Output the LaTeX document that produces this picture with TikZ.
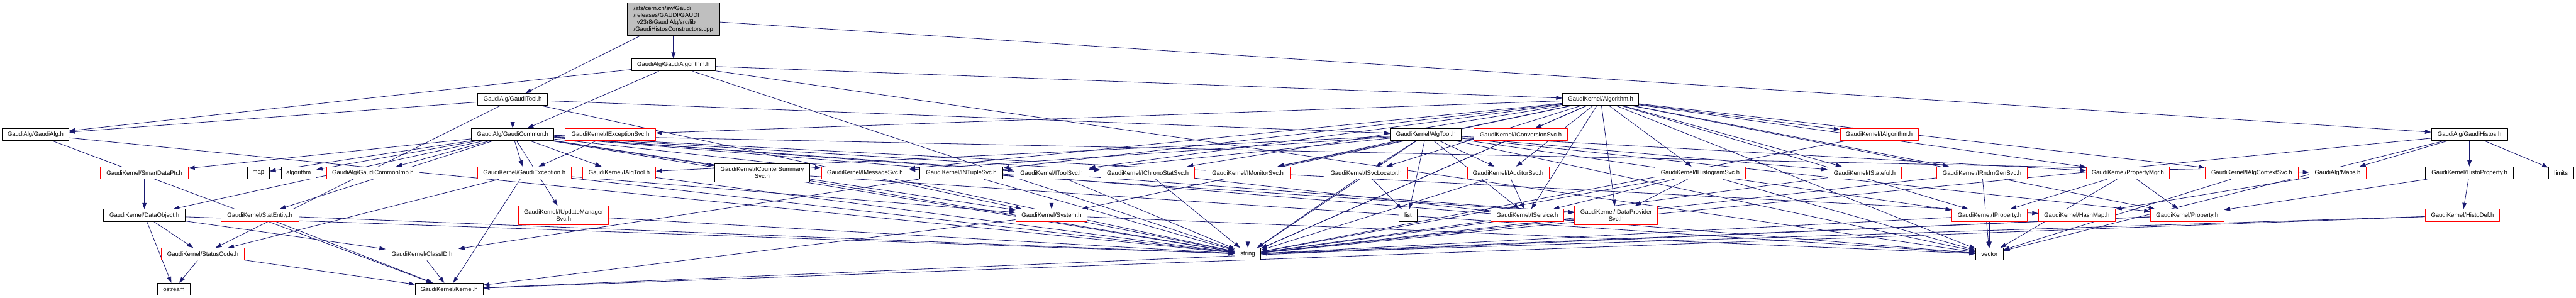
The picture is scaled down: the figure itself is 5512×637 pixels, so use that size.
\documentclass[tikz,border=0pt]{standalone}
\usepackage{fontspec}
\setmainfont{Liberation Sans}
\usetikzlibrary{arrows.meta,backgrounds}
\definecolor{DXedge}{HTML}{191970}
\definecolor{DXtrunc}{HTML}{FF0000}
\definecolor{DXroot}{HTML}{BFBFBF}

\begin{document}
\begin{tikzpicture}[
  x=1pt,y=-1pt,
  font=\fontsize{12.8}{14.7}\selectfont,
  line join=round,
  hdr/.style={draw=black,line width=1.3pt,fill=white,inner sep=0pt,
    minimum height=26pt,align=center},
  trunc/.style={hdr,draw=DXtrunc},
  twoline/.style={minimum height=40pt},
  rootbox/.style={hdr,fill=DXroot,align=left,minimum height=70pt},
  dep/.style={draw=DXedge,line width=1.1pt,-{Triangle[length=13pt,width=9pt]}}
]

% pixel grid of the reference, y grows downwards
\useasboundingbox (0,0) rectangle (5512,637);

% rows A-D
\node[rootbox,minimum width=198pt] (root) at (1441,41)
  {/afs/cern.ch/sw/Gaudi\\/releases/GAUDI/GAUDI\\\_v23r8/GaudiAlg/src/lib\\/GaudiHistosConstructors.cpp};
\node[hdr,minimum width=179pt] (galgorithm) at (1441,139) {GaudiAlg/GaudiAlgorithm.h};
\node[hdr,minimum width=150pt] (gtool) at (1097,213) {GaudiAlg/GaudiTool.h};
\node[hdr,minimum width=163pt] (algorithmh) at (3425,213) {GaudiKernel/Algorithm.h};
\node[hdr,minimum width=142pt] (galg) at (76,288) {GaudiAlg/GaudiAlg.h};
\node[hdr,minimum width=177pt] (gcommon) at (1097,288) {GaudiAlg/GaudiCommon.h};
\node[trunc,minimum width=194pt] (iexceptionsvc) at (1306,288) {GaudiKernel/IExceptionSvc.h};
\node[hdr,minimum width=152pt] (algtool) at (3051,288) {GaudiKernel/AlgTool.h};
\node[trunc,minimum width=201pt] (iconversionsvc) at (3254,288) {GaudiKernel/IConversionSvc.h};
\node[trunc,minimum width=167pt] (ialgorithm) at (4021,288) {GaudiKernel/IAlgorithm.h};
\node[hdr,minimum width=163pt] (ghistos) at (5284,288) {GaudiAlg/GaudiHistos.h};

% row E
\node[trunc,minimum width=188pt] (smartdataptr) at (309,370) {GaudiKernel/SmartDataPtr.h};
\node[hdr,minimum width=47pt] (map) at (553,370) {map};
\node[hdr,minimum width=75pt] (stdalgo) at (639,370) {algorithm};
\node[trunc,minimum width=199pt] (gcommonimp) at (798,370) {GaudiAlg/GaudiCommonImp.h};
\node[trunc,minimum width=201pt] (gaudiexception) at (1122,370) {GaudiKernel/GaudiException.h};
\node[trunc,minimum width=156pt] (ialgtool) at (1325,370) {GaudiKernel/IAlgTool.h};
\node[hdr,twoline,minimum width=203pt] (icountersum) at (1631,370) {GaudiKernel/ICounterSummary\\Svc.h};
\node[trunc,minimum width=187pt] (imessagesvc) at (1851,370) {GaudiKernel/IMessageSvc.h};
\node[hdr,minimum width=178pt] (intuplesvc) at (2057,370) {GaudiKernel/INTupleSvc.h};
\node[trunc,minimum width=160pt] (itoolsvc) at (2250,370) {GaudiKernel/IToolSvc.h};
\node[trunc,minimum width=201pt] (ichronosvc) at (2456,370) {GaudiKernel/IChronoStatSvc.h};
\node[trunc,minimum width=180pt] (imonitorsvc) at (2670,370) {GaudiKernel/IMonitorSvc.h};
\node[trunc,minimum width=179pt] (isvclocator) at (2923,370) {GaudiKernel/ISvcLocator.h};
\node[trunc,minimum width=175pt] (iauditorsvc) at (3227,370) {GaudiKernel/IAuditorSvc.h};
\node[trunc,minimum width=195pt] (ihistosvc) at (3638,370) {GaudiKernel/IHistogramSvc.h};
\node[trunc,minimum width=158pt] (istateful) at (3990,370) {GaudiKernel/IStateful.h};
\node[trunc,minimum width=194pt] (irndmsvc) at (4241,370) {GaudiKernel/IRndmGenSvc.h};
\node[trunc,minimum width=178pt] (propertymgr) at (4553,370) {GaudiKernel/PropertyMgr.h};
\node[trunc,minimum width=200pt] (ialgcontext) at (4818,370) {GaudiKernel/IAlgContextSvc.h};
\node[trunc,minimum width=122pt] (maps) at (5002,370) {GaudiAlg/Maps.h};
\node[hdr,minimum width=188pt] (histoproperty) at (5284,370) {GaudiKernel/HistoProperty.h};
\node[hdr,minimum width=54pt] (limits) at (5480,370) {limits};

% row F
\node[hdr,minimum width=175pt] (dataobject) at (309,461) {GaudiKernel/DataObject.h};
\node[trunc,minimum width=167pt] (statentity) at (556,461) {GaudiKernel/StatEntity.h};
\node[trunc,twoline,minimum width=193pt] (iupdatemgr) at (1206,461) {GaudiKernel/IUpdateManager\\Svc.h};
\node[trunc,minimum width=153pt] (system) at (2250,461) {GaudiKernel/System.h};
\node[hdr,minimum width=40pt] (list) at (3013,461) {list};
\node[trunc,minimum width=156pt] (iservice) at (3268,461) {GaudiKernel/IService.h};
\node[trunc,twoline,minimum width=178pt] (idataprovider) at (3458,461) {GaudiKernel/IDataProvider\\Svc.h};
\node[trunc,minimum width=161pt] (iproperty) at (4257,461) {GaudiKernel/IProperty.h};
\node[trunc,minimum width=164pt] (hashmap) at (4444,461) {GaudiKernel/HashMap.h};
\node[trunc,minimum width=157pt] (property) at (4680,461) {GaudiKernel/Property.h};
\node[trunc,minimum width=160pt] (histodef) at (5269,461) {GaudiKernel/HistoDef.h};

% rows G-H
\node[trunc,minimum width=177pt] (statuscode) at (434,544) {GaudiKernel/StatusCode.h};
\node[hdr,minimum width=155pt] (classid) at (903,544) {GaudiKernel/ClassID.h};
\node[hdr,minimum width=55pt] (string) at (2670,544) {string};
\node[hdr,minimum width=59pt] (vector) at (4257,544) {vector};
\node[hdr,minimum width=70pt] (ostream) at (372,619) {ostream};
\node[hdr,minimum width=145pt] (kernel) at (961,619) {GaudiKernel/Kernel.h};

\begin{scope}[on background layer]
% top level
\foreach \src/\dst in {root/galgorithm,root/gtool,root/ghistos,
  galgorithm/galg,galgorithm/gcommon,galgorithm/algorithmh,galgorithm/string,galgorithm/vector,
  gtool/galg,gtool/gcommon,gtool/algtool,gtool/statuscode,gtool/system}
  \draw[dep] (\src) -- (\dst);
% GaudiCommon.h
\foreach \dst in {smartdataptr,map,stdalgo,gcommonimp,dataobject,gaudiexception,ialgtool,
  iupdatemgr,icountersum,imessagesvc,itoolsvc,ichronosvc,statentity,system,idataprovider,
  maps,hashmap,string,vector}
  \draw[dep] (gcommon) -- (\dst);
% Algorithm.h
\foreach \dst in {iexceptionsvc,iconversionsvc,ialgorithm,imessagesvc,intuplesvc,itoolsvc,
  ichronosvc,imonitorsvc,isvclocator,iauditorsvc,iservice,idataprovider,ihistosvc,istateful,
  irndmsvc,propertymgr,ialgcontext,iproperty,property,system,string,vector}
  \draw[dep] (algorithmh) -- (\dst);
% AlgTool.h
\foreach \dst in {ialgtool,imessagesvc,itoolsvc,imonitorsvc,isvclocator,iauditorsvc,iservice,
  istateful,propertymgr,iproperty,property,list,string,vector}
  \draw[dep] (algtool) -- (\dst);
% GaudiHistos.h
\foreach \dst in {maps,histoproperty,limits,string,vector}
  \draw[dep] (ghistos) -- (\dst);
% lower levels
\foreach \src/\dst in {iexceptionsvc/gaudiexception,iconversionsvc/string,ialgorithm/string,
  smartdataptr/dataobject,dataobject/statuscode,dataobject/ostream,dataobject/classid,dataobject/string,
  statuscode/ostream,statuscode/kernel,classid/kernel,galg/kernel,galg/string,
  statentity/kernel,statentity/string,gaudiexception/statuscode,gaudiexception/kernel,
  gaudiexception/system,gaudiexception/string,ialgtool/string,iupdatemgr/string,
  icountersum/string,icountersum/vector,imessagesvc/string,intuplesvc/classid,
  intuplesvc/idataprovider,intuplesvc/string,itoolsvc/system,itoolsvc/string,
  ichronosvc/string,ichronosvc/iservice,imonitorsvc/string,system/string,system/kernel,
  system/vector,isvclocator/list,isvclocator/string,iauditorsvc/iservice,iauditorsvc/string,
  iservice/string,idataprovider/string,ihistosvc/iservice,ihistosvc/idataprovider,
  ihistosvc/string,ihistosvc/vector,istateful/string,irndmsvc/string,irndmsvc/vector,
  iproperty/vector,iproperty/string,propertymgr/iproperty,propertymgr/property,
  propertymgr/vector,maps/hashmap,ialgcontext/vector,property/string,property/kernel,
  histoproperty/property,histoproperty/histodef,histodef/string,histodef/kernel}
  \draw[dep] (\src) -- (\dst);
\end{scope}

\end{tikzpicture}
\end{document}
